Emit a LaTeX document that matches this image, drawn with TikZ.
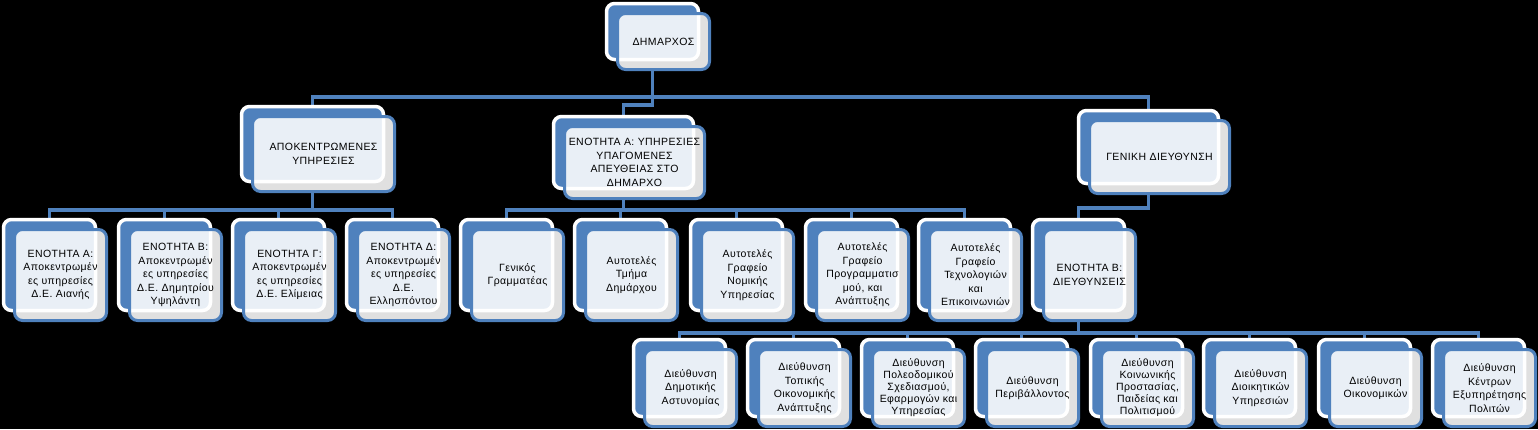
\documentclass[tikz,border=0pt]{standalone}
\usepackage{fontspec}
\setmainfont{Liberation Sans}[LetterSpace=4]
\usetikzlibrary{backgrounds}
\definecolor{orgblue}{RGB}{79,129,189}

\tikzstyle{every node}=[font={\fontsize{10.5}{13.5}\selectfont}, align=center, inner sep=0pt]
\tikzstyle{outerbox}=[draw=white, line width=3.5pt, fill=orgblue, rounded corners=8pt]
\tikzstyle{innerbox}=[draw=orgblue, line width=3pt, fill=white, fill opacity=0.88, text opacity=1, rounded corners=8pt]
\tikzstyle{link}=[draw=orgblue, line width=3.5pt]
\tikzstyle{tight}=[font={\fontsize{10.5}{12}\selectfont}]

% name, x, y, width, height, text
\newcommand{\orgunit}[7][]{%
  \node[outerbox, minimum width=#5pt, minimum height=#6pt] (#2-o) at (#3,#4) {};
  \node[innerbox, minimum width=#5pt, minimum height=#6pt, #1] (#2) at ([shift={(11,10)}]#2-o.center) {#7};
}

\begin{document}
\begin{tikzpicture}[x=1pt, y=-1pt]
    \useasboundingbox (0,0) rectangle (1538,429);
    \coordinate (bar0) at (0,97);
    \coordinate (jog0) at (0,105);
    \coordinate (bar1) at (0,210);
    \coordinate (jog1) at (0,208);
    \coordinate (bar2) at (0,333);

    \orgunit{dim}{652.5}{31.5}{92}{56}{ΔΗΜΑΡΧΟΣ}

    \orgunit{apo}{312.5}{144}{142}{75}{ΑΠΟΚΕΝΤΡΩΜΕΝΕΣ\\ΥΠΗΡΕΣΙΕΣ}
    \orgunit{ena}{623.5}{152.5}{140}{72}{ΕΝΟΤΗΤΑ Α: ΥΠΗΡΕΣΙΕΣ\\ΥΠΑΓΟΜΕΝΕΣ\\ΑΠΕΥΘΕΙΑΣ ΣΤΟ\\ΔΗΜΑΡΧΟ}
    \orgunit{gen}{1148.5}{147}{140}{73}{ΓΕΝΙΚΗ ΔΙΕΥΘΥΝΣΗ}

    \orgunit{aian}{49.5}{265}{92}{91}{ΕΝΟΤΗΤΑ Α:\\Αποκεντρωμέν\\ες υπηρεσίες\\Δ.Ε. Αιανής}
    \orgunit{ypsil}{164.5}{265}{92}{91}{ΕΝΟΤΗΤΑ Β:\\Αποκεντρωμέν\\ες υπηρεσίες\\Δ.Ε. Δημητρίου\\Υψηλάντη}
    \orgunit{elim}{278.5}{265}{92}{91}{ΕΝΟΤΗΤΑ Γ:\\Αποκεντρωμέν\\ες υπηρεσίες\\Δ.Ε. Ελίμειας}
    \orgunit{elli}{392.5}{265}{92}{91}{ΕΝΟΤΗΤΑ Δ:\\Αποκεντρωμέν\\ες υπηρεσίες\\Δ.Ε.\\Ελλησπόντου}

    \orgunit{gram}{506.5}{265}{92}{91}{Γενικός\\Γραμματέας}
    \orgunit{tmima}{620.5}{265}{92}{91}{Αυτοτελές\\Τμήμα\\Δημάρχου}
    \orgunit{nomik}{736.5}{265}{92}{91}{Αυτοτελές\\Γραφείο\\Νομικής\\Υπηρεσίας}
    \orgunit{progr}{851.5}{265}{92}{91}{Αυτοτελές\\Γραφείο\\Προγραμματισ\\μού, και\\Ανάπτυξης}
    \orgunit{tech}{964.5}{265}{92}{91}{Αυτοτελές\\Γραφείο\\Τεχνολογιών\\και\\Επικοινωνιών}
    \orgunit{enb}{1078.5}{265}{92}{91}{ΕΝΟΤΗΤΑ Β:\\ΔΙΕΥΘΥΝΣΕΙΣ}

    \orgunit{astyn}{679.5}{378}{92}{77}{Διεύθυνση\\Δημοτικής\\Αστυνομίας}
    \orgunit{oikan}{793.5}{378}{92}{77}{Διεύθυνση\\Τοπικής\\Οικονομικής\\Ανάπτυξης}
    \orgunit[tight]{poleo}{907.5}{378}{92}{77}{Διεύθυνση\\Πολεοδομικού\\Σχεδιασμού,\\Εφαρμογών και\\Υπηρεσίας}
    \orgunit{peri}{1021.5}{378}{92}{77}{Διεύθυνση\\Περιβάλλοντος}
    \orgunit[tight]{koin}{1136.5}{378}{92}{77}{Διεύθυνση\\Κοινωνικής\\Προστασίας,\\Παιδείας και\\Πολιτισμού}
    \orgunit{dioik}{1249.5}{378}{92}{77}{Διεύθυνση\\Διοικητικών\\Υπηρεσιών}
    \orgunit{oikon}{1364.5}{378}{92}{77}{Διεύθυνση\\Οικονομικών}
    \orgunit{kep}{1478.5}{378}{92}{77}{Διεύθυνση\\Κέντρων\\Εξυπηρέτησης\\Πολιτών}

    \begin{pgfonlayer}{background}
        \fill[black] (0,0) rectangle (1538,429);
        \draw[link] (dim-o.center |- dim.south) -- (dim-o.center |- bar0);
        \draw[link] (dim-o.center |- bar0) -| (apo-o.north);
        \draw[link] (dim-o.center |- bar0) -| (gen-o.north);
        \draw[link] (dim-o.center |- bar0) -- (dim-o.center |- jog0) -| (ena-o.north);

        \draw[link] (apo-o.center |- apo.south) -- (apo-o.center |- bar1);
        \foreach \c in {aian,ypsil,elim,elli}
            \draw[link] (apo-o.center |- bar1) -| (\c-o.north);

        \draw[link] (ena-o.center |- ena.south) -- (ena-o.center |- bar1);
        \foreach \c in {gram,tmima,nomik,progr,tech}
            \draw[link] (ena-o.center |- bar1) -| (\c-o.north);

        \draw[link] (gen-o.center |- gen.south) -- (gen-o.center |- jog1) -| (enb-o.north);

        \draw[link] (enb-o.center |- enb.south) -- (enb-o.center |- bar2);
        \foreach \c in {astyn,oikan,poleo,peri,koin,dioik,oikon,kep}
            \draw[link] (enb-o.center |- bar2) -| (\c-o.north);
    \end{pgfonlayer}
\end{tikzpicture}
\end{document}
